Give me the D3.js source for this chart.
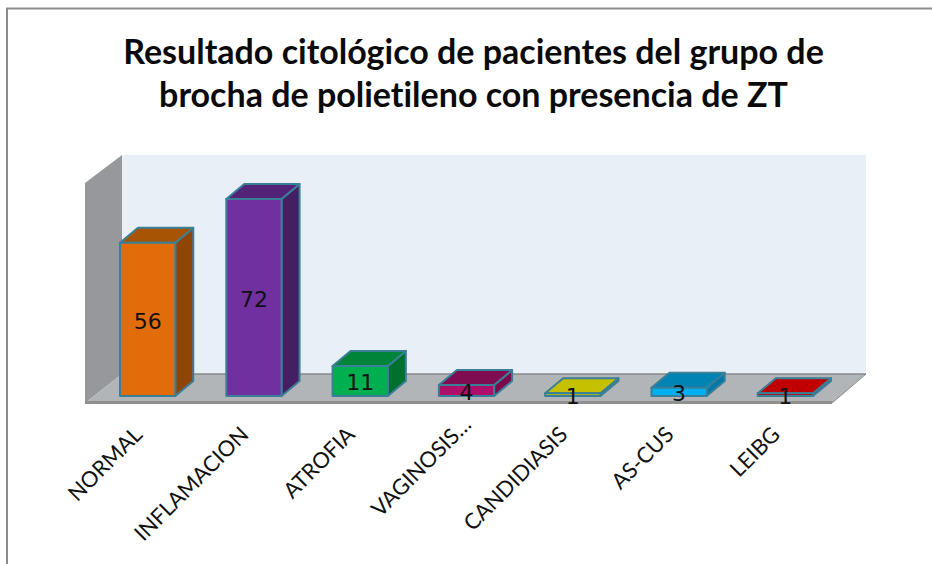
<!DOCTYPE html>
<html><head><meta charset="utf-8">
<script src="https://cdnjs.cloudflare.com/ajax/libs/d3/7.8.5/d3.min.js"></script>
<style>html,body{margin:0;padding:0;background:#fff}svg{display:block}text{font-variant-ligatures:none}</style></head>
<body><svg id="c" width="932" height="564"></svg>
<script>
const titleLines = ["Resultado citológico de pacientes del grupo de","brocha de polietileno con presencia de ZT"];
const categories = ["NORMAL","INFLAMACION","ATROFIA","VAGINOSIS…","CANDIDIASIS","AS-CUS","LEIBG"];
const values = [56,72,11,4,1,3,1];
const frontColors = ["#E36C0A","#7030A0","#00B050","#AE0F6B","#C5C000","#00B0F0","#C00000"];
const sideColors  = ["#8F4605","#451F63","#00702F","#7B0A4B","#8A8700","#0079A8","#860000"];
const topColors   = ["#A85405","#532378","#00843A","#7F0C50","#C5C000","#0084B4","#C00000"];

const W = 932, H = 564;
const svg = d3.select("#c");
const x = d3.scaleBand().domain(categories).range([94.5, 838.5]).paddingInner(0.48).paddingOuter(0.24);
const y = d3.scaleLinear().domain([0, 72]).range([396, 199]);
const depth = {dx: 18, dy: -15};
const line = d3.line();

// frame
svg.append("path").attr("d", line([[7,564],[7,8.5],[932,8.5]])).attr("fill","none").attr("stroke","#8c8c8c").attr("stroke-width",2);

// walls
svg.append("path").attr("d", line([[122,155],[866,155],[866,374],[122,374]])+"Z").attr("fill","#E9EFF6");
svg.append("path").attr("d", line([[85,183],[122,155],[122,374],[85,403]])+"Z").attr("fill","#96989B");
svg.append("path").attr("d", line([[122,374],[866,374],[832,403],[85,403]])+"Z").attr("fill","#B2B5B8");
svg.append("path").attr("d", line([[122,374],[866,374]])).attr("stroke","#8a8a8a").attr("stroke-width",1.5).attr("fill","none");
svg.append("path").attr("d", line([[85,402.5],[832,402.5]])).attr("stroke","#8f8f8f").attr("stroke-width",3).attr("fill","none");
svg.append("path").attr("d", line([[832,403],[866,374]])).attr("stroke","#8a8a8a").attr("stroke-width",1).attr("fill","none");

// bars
const bars = svg.append("g").selectAll("g").data(categories).join("g")
  .attr("stroke","#3A7F98").attr("stroke-width",2).attr("stroke-linejoin","round");
bars.each(function(c,i){
  const g = d3.select(this), x0 = x(c), x1 = x0 + x.bandwidth(), yt = y(values[i]), yb = y(0);
  const {dx, dy} = depth;
  g.append("path").attr("fill", sideColors[i]).attr("d", line([[x1,yt],[x1+dx,yt+dy],[x1+dx,yb+dy],[x1,yb]])+"Z");
  g.append("path").attr("fill", topColors[i]).attr("d", line([[x0,yt],[x0+dx,yt+dy],[x1+dx,yt+dy],[x1,yt]])+"Z");
  g.append("path").attr("fill", frontColors[i]).attr("d", line([[x0,yt],[x1,yt],[x1,yb],[x0,yb]])+"Z");
});

// value labels
svg.append("g").selectAll("text").data(categories).join("text")
  .attr("x", c => x(c) + x.bandwidth()/2)
  .attr("y", (c,i) => (y(values[i]) + y(0))/2 + 9.5)
  .attr("text-anchor","middle").attr("font-family","DejaVu Sans").attr("font-size",22).attr("fill","#111")
  .text((c,i) => values[i]);

// category axis
const axis = svg.append("g").attr("transform","translate(0,403)").call(d3.axisBottom(x).tickSize(0).tickPadding(0));
axis.select(".domain").remove();
axis.selectAll("text")
  .attr("font-family","Lato").attr("font-size",21.8).attr("fill","#111")
  .attr("text-anchor","end").attr("dy",0).attr("y",0)
  .attr("transform", d => d.endsWith("…") ? "translate(6,23) rotate(-45)" : "translate(-4,33) rotate(-45)");

// title
svg.append("g").selectAll("text").data(titleLines).join("text")
  .attr("x",473.5).attr("y",(d,i)=>64+i*43)
  .attr("text-anchor","middle").attr("font-family","Lato").attr("font-weight",700).attr("font-size",34).attr("fill","#0a0a0a")
  .text(d=>d);
</script></body></html>
